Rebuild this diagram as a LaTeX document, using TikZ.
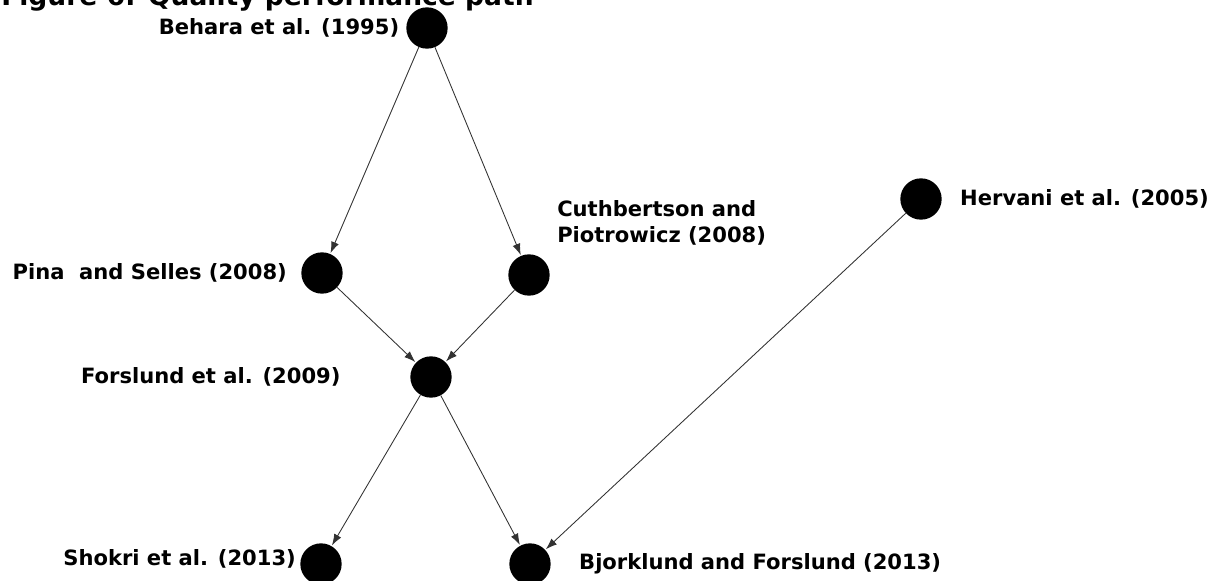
\documentclass[tikz,border=0pt]{standalone}
\usepackage{fontspec}
\setmainfont{DejaVu Sans}
\usetikzlibrary{arrows.meta, positioning}
\definecolor{edgegray}{RGB}{50,50,50}

\begin{document}
\begin{tikzpicture}[x=0.75pt, y=-0.75pt,
  paper/.style={circle, fill=black, minimum size=31pt, inner sep=0pt},
  ref/.style={font=\bfseries\fontsize{15.8}{19.5}\selectfont, inner sep=0pt},
  cite/.style={-{Latex[length=8.5pt,width=6pt]}, draw=edgegray, line width=0.65pt, shorten >=0.5pt}]
  \useasboundingbox (0,0) rectangle (1220,581);

  % title, cut by the top edge
  \node[font=\bfseries\fontsize{19.9}{24}\selectfont, anchor=base west, inner sep=0pt] (title) at (1,5.5) {Figure 6: Quality performance path};

  % papers
  \node[paper] (behara) at (427,28) {};
  \node[paper] (pina) at (322,273) {};
  \node[paper] (cuth) at (529,275) {};
  \node[paper] (forslund) at (431,377) {};
  \node[paper] (hervani) at (921,199) {};
  \node[paper] (shokri) at (321,564) {};
  \node[paper] (bjork) at (530,564) {};

  % labels
  \node[ref, left=5pt of behara] (behara-lbl) {Behara et al. (1995)};
  \node[ref, left=10.5pt of pina] (pina-lbl) {Pina\ \ and Selles (2008)};
  \node[ref, align=left, anchor=west] (cuth-lbl) at (557,223) {Cuthbertson and\\Piotrowicz (2008)};
  \node[ref, left=52pt of forslund] (forslund-lbl) {Forslund et al. (2009)};
  \node[ref, right=13.5pt of hervani] (hervani-lbl) {Hervani et al. (2005)};
  \node[ref, left=3pt of shokri, yshift=4pt] (shokri-lbl) {Shokri et al. (2013)};
  \node[ref, right=21pt of bjork] (bjork-lbl) {Bjorklund and Forslund (2013)};

  % citation path
  \draw[cite] (behara) -- (pina);
  \draw[cite] (behara) -- (cuth);
  \draw[cite] (pina) -- (forslund);
  \draw[cite] (cuth) -- (forslund);
  \draw[cite] (forslund) -- (shokri);
  \draw[cite] (forslund) -- (bjork);
  \draw[cite] (hervani) -- (bjork);
\end{tikzpicture}
\end{document}
